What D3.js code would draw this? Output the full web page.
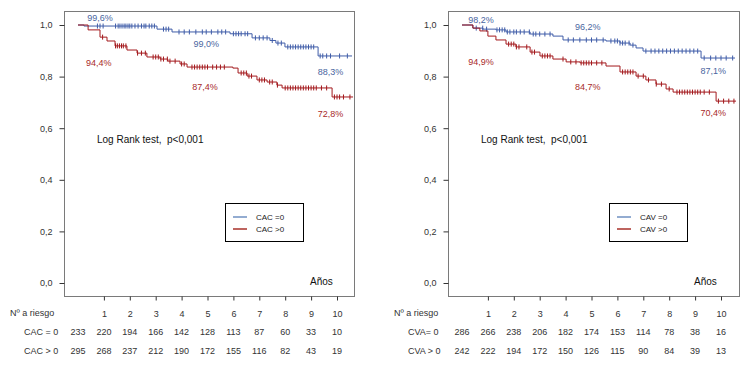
<!DOCTYPE html>
<html>
<head>
<meta charset="utf-8">
<script src="https://cdn.jsdelivr.net/npm/d3@7"></script>
<style>
  body { margin: 0; background: #fff; }
  text { font-family: "Liberation Sans", Arial, sans-serif; }
</style>
</head>
<body>
<div id="chart"></div>
<script>
// Shared axis values
const years = [0, 1, 2, 3, 4, 5, 6, 7, 8, 9, 10];
const yTicks = [0, 0.2, 0.4, 0.6, 0.8, 1.0];

// Left panel: CAC
const cac0Time = [0, 0.23, 3.05, 3.63, 5.87, 6.72, 7.41, 7.64, 7.99, 9.27];
const cac0Surv = [1, 0.996, 0.984, 0.973, 0.966, 0.950, 0.940, 0.930, 0.915, 0.880];
const cac0End = 10.58;
const cac0Censor = [0.75, 0.85, 0.97, 1.45, 1.55, 1.62, 1.7, 1.78, 1.85, 1.93, 2.0, 2.08, 2.2, 2.32, 2.45, 2.55, 2.62, 2.75, 2.85, 2.95, 3.3, 3.4, 3.5, 3.9, 4.1, 4.3, 4.55, 4.8, 4.95, 5.15, 5.4, 5.55, 5.7, 6.0, 6.1, 6.2, 6.3, 6.45, 6.55, 6.85, 7.0, 7.15, 7.3, 7.5, 7.72, 7.85, 8.1, 8.2, 8.3, 8.4, 8.5, 8.6, 8.7, 8.8, 8.9, 9.0, 9.1, 9.35, 9.45, 9.6, 9.75, 10.1, 10.4];
const cac0Risk = [233, 220, 194, 166, 142, 128, 113, 87, 60, 33, 10];

const cac1Time = [0, 0.39, 0.85, 1.12, 1.43, 1.89, 2.28, 2.66, 3.17, 3.47, 3.94, 4.21, 5.98, 6.18, 6.53, 6.91, 7.30, 7.68, 7.88, 9.81];
const cac1Surv = [1, 0.981, 0.953, 0.938, 0.919, 0.903, 0.891, 0.876, 0.868, 0.860, 0.849, 0.837, 0.833, 0.814, 0.802, 0.787, 0.779, 0.767, 0.756, 0.721];
const cac1End = 10.62;
const cac1Censor = [0.95, 1.45, 1.52, 1.6, 1.68, 1.75, 1.85, 2.3, 2.45, 2.6, 2.9, 3.0, 3.1, 3.2, 3.3, 3.45, 3.55, 3.75, 4.0, 4.1, 4.4, 4.5, 4.6, 4.7, 4.8, 4.9, 5.0, 5.2, 5.35, 5.5, 5.65, 6.3, 6.4, 6.5, 6.6, 6.7, 7.0, 7.1, 7.2, 7.4, 7.5, 7.7, 8.0, 8.1, 8.2, 8.3, 8.4, 8.5, 8.6, 8.7, 8.8, 8.9, 9.0, 9.1, 9.2, 9.4, 9.6, 9.9, 10.0, 10.1, 10.25, 10.5];
const cac1Risk = [295, 268, 237, 212, 190, 172, 155, 116, 82, 43, 19];

// Right panel: CVA
const cva0Time = [0, 0.42, 0.81, 1.31, 1.70, 2.63, 3.51, 3.90, 5.56, 6.10, 6.49, 6.72, 6.99, 9.23];
const cva0Surv = [1, 0.988, 0.984, 0.981, 0.973, 0.965, 0.957, 0.942, 0.938, 0.930, 0.922, 0.911, 0.899, 0.872];
const cva0End = 10.54;
const cva0Censor = [0.55, 0.8, 0.95, 1.35, 1.45, 1.55, 1.65, 1.75, 1.85, 2.0, 2.1, 2.25, 2.4, 2.6, 2.75, 2.85, 3.0, 3.2, 3.4, 4.1, 4.3, 4.55, 4.8, 5.0, 5.2, 5.45, 5.75, 5.9, 6.0, 6.1, 6.2, 6.3, 6.45, 6.6, 7.1, 7.3, 7.45, 7.6, 7.75, 7.9, 8.05, 8.2, 8.35, 8.5, 8.65, 8.8, 8.95, 9.1, 9.35, 9.6, 9.8, 10.0, 10.2, 10.45];
const cva0Risk = [286, 266, 238, 206, 182, 174, 153, 114, 78, 38, 16];

const cva1Time = [0, 0.42, 0.69, 1.0, 1.31, 1.70, 2.08, 2.63, 3.01, 3.51, 4.02, 4.56, 5.56, 6.10, 6.72, 7.10, 7.49, 7.88, 8.15, 9.81];
const cva1Surv = [1, 0.988, 0.977, 0.957, 0.942, 0.926, 0.915, 0.895, 0.880, 0.868, 0.857, 0.853, 0.841, 0.818, 0.802, 0.787, 0.771, 0.752, 0.740, 0.705];
const cva1End = 10.58;
const cva1Censor = [1.8, 1.9, 2.0, 2.1, 2.2, 2.5, 2.7, 2.8, 3.1, 3.2, 3.3, 3.4, 3.9, 4.2, 4.4, 4.6, 4.7, 4.8, 4.9, 5.0, 5.2, 5.4, 6.2, 6.3, 6.4, 6.5, 6.6, 6.8, 7.0, 7.2, 7.5, 7.7, 8.0, 8.3, 8.4, 8.5, 8.6, 8.7, 8.8, 8.9, 9.0, 9.1, 9.2, 9.35, 9.55, 9.9, 10.1, 10.3, 10.5];
const cva1Risk = [242, 222, 194, 172, 150, 126, 115, 90, 84, 39, 13];

const blue = '#3f5ca8';
const red = '#a3181c';

const w = 746;
const h = 366;

const svg = d3.select('#chart')
  .append('svg')
  .attr('width', w)
  .attr('height', h);

const y = d3.scaleLinear().domain([0, 1]).range([283, 25]);
const fmt = d => d3.format('.1f')(d).replace('.', ',');

const stepLine = (x) => d3.line()
  .curve(d3.curveStepAfter)
  .x(d => x(d[0]))
  .y(d => y(d[1]));

function drawPanel(p) {
  const x = d3.scaleLinear().domain([0, 10]).range([p.x0, p.x0 + 259]);
  const g = svg.append('g');

  // plot frame
  g.append('rect')
    .attr('x', p.boxL + 0.5).attr('y', 11.5)
    .attr('width', p.boxR - p.boxL).attr('height', 285)
    .attr('fill', 'none').attr('stroke', '#7a7a7a');

  // y axis
  const yAxis = g.append('g')
    .attr('transform', `translate(${p.boxL + 0.5},0)`)
    .call(d3.axisLeft(y).tickValues(yTicks).tickFormat(fmt).tickSize(5).tickPadding(7));
  yAxis.select('.domain').remove();

  // x axis (under the frame)
  const xAxis = g.append('g')
    .attr('transform', `translate(0,${296.5})`)
    .call(d3.axisBottom(x).tickValues(years.slice(1)).tickSize(4).tickPadding(10));
  xAxis.select('.domain').remove();

  g.selectAll('.tick line').attr('stroke', '#333');
  g.selectAll('.tick text').attr('fill', '#333').style('font-size', '9px')
    .style('font-family', '"Liberation Sans", Arial, sans-serif');

  // survival curves
  p.series.forEach(s => {
    const pts = s.time.map((t, i) => [t, s.surv[i]]);
    pts.push([s.end, s.surv[s.surv.length - 1]]);
    g.append('path')
      .attr('d', stepLine(x)(pts))
      .attr('fill', 'none')
      .attr('stroke', s.color)
      .attr('stroke-width', 1);

    g.append('g').selectAll('line')
      .data(s.censor)
      .join('line')
      .attr('x1', d => x(d)).attr('x2', d => x(d))
      .attr('y1', d => y(s.surv[d3.bisectRight(s.time, d) - 1]) - 2.5)
      .attr('y2', d => y(s.surv[d3.bisectRight(s.time, d) - 1]) + 2.5)
      .attr('stroke', s.color)
      .attr('stroke-width', 1);

    // percentage labels
    g.append('g').selectAll('text')
      .data(s.labels)
      .join('text')
      .attr('x', d => x(d.t))
      .attr('y', d => d.py)
      .attr('dy', '0.35em')
      .attr('text-anchor', 'middle')
      .attr('fill', s.labelColor)
      .style('font-size', '9px')
      .text(d => d.text);
  });

  g.append('text')
    .attr('x', p.x0 + 19).attr('y', 139).attr('dy', '0.35em')
    .style('font-size', '10px').style('white-space', 'pre').attr('fill', '#111')
    .text('Log Rank test,\u00a0 p<0,001');

  // legend
  const lg = g.append('g').attr('transform', `translate(${p.x0 + 147},203)`);
  lg.append('rect')
    .attr('x', 0.5).attr('y', 0.5).attr('width', 78).attr('height', 38)
    .attr('fill', '#fff').attr('stroke', '#000');
  p.legend.forEach((d, i) => {
    lg.append('line')
      .attr('x1', 8).attr('x2', 22)
      .attr('y1', 14 + i * 12).attr('y2', 14 + i * 12)
      .attr('stroke', d.color).attr('stroke-width', 1.5);
    lg.append('text')
      .attr('x', 31).attr('y', 14 + i * 12).attr('dy', '0.35em')
      .style('font-size', '8px').attr('fill', '#222')
      .text(d.text);
  });

  g.append('text')
    .attr('x', p.x0 + 232).attr('y', 281).attr('dy', '0.35em')
    .style('font-size', '10px').attr('fill', '#111')
    .text('Años');

  // numbers at risk
  g.append('text')
    .attr('x', p.x0 - 68).attr('y', 313).attr('dy', '0.35em')
    .style('font-size', '9px').attr('fill', '#333')
    .text('Nº a riesgo');

  p.risk.forEach((r, i) => {
    const ry = 332 + i * 19;
    g.append('text')
      .attr('x', p.x0 - 54).attr('y', ry).attr('dy', '0.35em')
      .style('font-size', '9px').attr('fill', '#333')
      .text(r.name);
    g.append('g').selectAll('text')
      .data(r.values)
      .join('text')
      .attr('x', (d, j) => x(years[j]))
      .attr('y', ry).attr('dy', '0.35em')
      .attr('text-anchor', 'middle')
      .style('font-size', '9px').attr('fill', '#333')
      .text(d => d);
  });
}

drawPanel({
  x0: 78, boxL: 64, boxR: 354,
  series: [
    { time: cac0Time, surv: cac0Surv, end: cac0End, censor: cac0Censor, color: blue, labelColor: '#4a66a0',
      labels: [{ t: 0.85, py: 18, text: '99,6%' }, { t: 4.95, py: 44, text: '99,0%' }, { t: 9.75, py: 72, text: '88,3%' }] },
    { time: cac1Time, surv: cac1Surv, end: cac1End, censor: cac1Censor, color: red, labelColor: '#a82a2a',
      labels: [{ t: 0.8, py: 63, text: '94,4%' }, { t: 4.9, py: 87, text: '87,4%' }, { t: 9.75, py: 114, text: '72,8%' }] }
  ],
  legend: [{ text: 'CAC =0', color: '#6f90c2' }, { text: 'CAC >0', color: '#a8302a' }],
  risk: [{ name: 'CAC = 0', values: cac0Risk }, { name: 'CAC > 0', values: cac1Risk }]
});

drawPanel({
  x0: 462, boxL: 448, boxR: 739,
  series: [
    { time: cva0Time, surv: cva0Surv, end: cva0End, censor: cva0Censor, color: blue, labelColor: '#4a66a0',
      labels: [{ t: 0.73, py: 20, text: '98,2%' }, { t: 4.86, py: 27, text: '96,2%' }, { t: 9.7, py: 71, text: '87,1%' }] },
    { time: cva1Time, surv: cva1Surv, end: cva1End, censor: cva1Censor, color: red, labelColor: '#a82a2a',
      labels: [{ t: 0.73, py: 62, text: '94,9%' }, { t: 4.86, py: 87, text: '84,7%' }, { t: 9.7, py: 113, text: '70,4%' }] }
  ],
  legend: [{ text: 'CAV =0', color: '#6f90c2' }, { text: 'CAV >0', color: '#a8302a' }],
  risk: [{ name: 'CVA= 0', values: cva0Risk }, { name: 'CVA > 0', values: cva1Risk }]
});
</script>
</body>
</html>
